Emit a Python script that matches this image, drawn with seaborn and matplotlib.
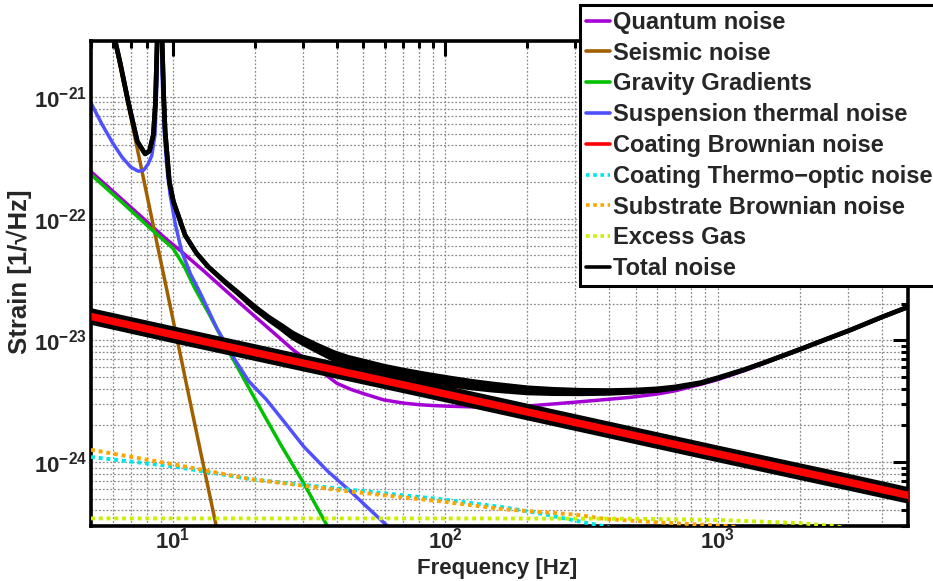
import numpy as np
import pandas as pd
import matplotlib
matplotlib.use("Agg")
import matplotlib.pyplot as plt
import seaborn as sns
from matplotlib.lines import Line2D
from matplotlib.ticker import FixedLocator, FuncFormatter, NullFormatter

# ---------------- data ----------------
labels = ["Quantum noise", "Seismic noise", "Gravity Gradients",
          "Suspension thermal noise", "Coating Brownian noise",
          "Coating Thermo\u2212optic noise", "Substrate Brownian noise",
          "Excess Gas", "Total noise"]

f_quantum = [5, 6, 7.5, 9.36, 10.6, 13, 16, 20, 24, 27.7, 32, 36, 40, 45, 50,
             59.4, 70, 80, 90, 104.5, 125, 150, 175, 206, 250, 314, 400, 478,
             600, 700, 850, 1000, 1250, 1500, 2023, 2500, 3085, 4000, 5000]
quantum = [2.43e-22, 1.69e-22, 1.08e-22, 6.9e-23, 5.5e-23, 3.7e-23, 2.44e-23,
           1.57e-23, 1.1e-23, 8.3e-24, 6.5e-24, 5.3e-24, 4.43e-24, 3.95e-24,
           3.65e-24, 3.24e-24, 3.05e-24, 2.96e-24, 2.91e-24, 2.87e-24,
           2.84e-24, 2.84e-24, 2.86e-24, 2.9e-24, 3.0e-24, 3.13e-24, 3.28e-24,
           3.4e-24, 3.62e-24, 3.85e-24, 4.3e-24, 4.75e-24, 5.62e-24, 6.55e-24,
           8.45e-24, 1.015e-23, 1.215e-23, 1.545e-23, 1.875e-23]

f_seismic = [6.0, 6.9, 7.7, 8.6, 9.5, 10.5, 11.8, 13.0, 14.5, 15.5]
seismic = [3.5e-21, 7.9e-22, 2.43e-22, 7.4e-23, 2.57e-23, 8.8e-24, 2.5e-24,
           8.9e-25, 2.8e-25, 1.4e-25]

f_gravity = [5, 6.5, 8.36, 10, 11, 12, 13.5, 16.4, 20, 25, 30.2, 36.8, 40]
gravity = [2.3e-22, 1.36e-22, 8.1e-23, 5.7e-23, 4.05e-23, 2.7e-23, 1.68e-23,
           7.4e-24, 3.3e-24, 1.36e-24, 6.7e-25, 3.0e-25, 2.1e-25]

f_susp = [5, 5.5, 6, 6.5, 7, 7.46, 7.8, 8.1, 8.36, 8.6, 8.75, 8.85, 8.93, 9.0,
          9.12, 9.3, 9.5, 9.76, 10.2, 10.77, 11.6, 12.6, 14.5, 16.9, 19, 22,
          26, 30.2, 37, 45, 52, 61.1, 70]
susp = [8.9e-22, 5.9e-22, 4.2e-22, 3.2e-22, 2.65e-22, 2.45e-22, 2.5e-22,
        2.8e-22, 3.3e-22, 5e-22, 1.5e-21, 1e-20, 5e-20, 1e-20, 1.5e-21, 5e-22,
        2.6e-22, 1.57e-22, 9e-23, 5.36e-23, 3.5e-23, 2.44e-23, 1.25e-23,
        6.9e-24, 4.6e-24, 3.27e-24, 2.05e-24, 1.34e-24, 8.4e-25, 5.7e-25,
        4.2e-25, 3.0e-25, 2.25e-25]

f_coat = [5, 10, 30, 100, 300, 1000, 3000, 5000]
coat_hi = [1.76e-23, 1.25e-23, 7.3e-24, 4.06e-24, 2.37e-24, 1.31e-24, 7.7e-25, 5.97e-25]
coat_lo = [1.40e-23, 9.9e-24, 5.8e-24, 3.23e-24, 1.88e-24, 1.04e-24, 6.1e-25, 4.75e-25]

f_thermo = [5, 10, 19.5, 45.4, 100, 162, 220, 300, 388, 420]
thermo = [1.1e-24, 9.2e-25, 7.2e-25, 5.9e-25, 4.9e-25, 4.26e-25, 3.8e-25,
          3.3e-25, 2.95e-25, 2.8e-25]

f_substrate = [5, 10, 19.5, 45.4, 100, 162, 300, 388, 600, 1100, 1200]
substrate = [1.26e-24, 9.6e-25, 7.2e-25, 5.7e-25, 4.7e-25, 4.1e-25, 3.7e-25,
             3.4e-25, 3.2e-25, 2.97e-25, 2.9e-25]

f_gas = [5, 100, 500, 1000, 2000, 2700, 3000]
gas = [3.44e-25, 3.44e-25, 3.42e-25, 3.34e-25, 3.15e-25, 2.97e-25, 2.85e-25]

f_total = [6.0, 6.4, 6.85, 7.4, 7.9, 8.2, 8.47, 8.62, 8.75, 8.85, 8.93, 9.0,
           9.12, 9.25, 9.36, 9.7, 10.04, 11.08, 12.2, 13.5, 15.5, 17.4, 20,
           22.5, 25, 27.5, 30, 34, 38.9, 44, 50, 60, 70, 85, 104.5, 125, 150,
           200, 250, 314, 400, 500, 600, 700, 867, 1000, 1250, 1500, 2023,
           2500, 3085, 4000, 5000]
total_hi = [3.6e-21, 1.9e-21, 9.1e-22, 4.3e-22, 3.4e-22, 3.6e-22, 4.9e-22,
            9e-22, 3e-21, 2e-20, 1e-19, 2e-20, 3e-21, 1e-21, 5.2e-22, 2.0e-22,
            1.38e-22, 7.3e-23, 5.2e-23, 4.0e-23, 3.05e-23, 2.46e-23, 1.89e-23,
            1.55e-23, 1.33e-23, 1.15e-23, 1.04e-23, 9.1e-24, 7.97e-24,
            7.26e-24, 6.77e-24, 6.12e-24, 5.71e-24, 5.28e-24, 4.9e-24,
            4.61e-24, 4.38e-24, 4.08e-24, 3.96e-24, 3.89e-24, 3.87e-24,
            3.91e-24, 4.0e-24, 4.15e-24, 4.5e-24, 4.93e-24, 5.75e-24,
            6.64e-24, 8.5e-24, 1.02e-23, 1.22e-23, 1.55e-23, 1.88e-23]
total_lo = [3.6e-21, 1.9e-21, 9.1e-22, 4.3e-22, 3.4e-22, 3.6e-22, 4.9e-22,
            9e-22, 3e-21, 2e-20, 1e-19, 2e-20, 3e-21, 1e-21, 5.2e-22, 2.0e-22,
            1.38e-22, 7.3e-23, 5.2e-23, 4.0e-23, 3.0e-23, 2.4e-23, 1.81e-23,
            1.47e-23, 1.24e-23, 1.05e-23, 9.4e-24, 8.1e-24, 6.95e-24,
            6.26e-24, 5.82e-24, 5.25e-24, 4.9e-24, 4.56e-24, 4.27e-24,
            4.05e-24, 3.88e-24, 3.69e-24, 3.64e-24, 3.63e-24, 3.66e-24,
            3.75e-24, 3.86e-24, 4.04e-24, 4.43e-24, 4.86e-24, 5.71e-24,
            6.6e-24, 8.48e-24, 1.019e-23, 1.219e-23, 1.549e-23, 1.879e-23]

x_ticks = [10, 100, 1000]
y_ticks = [1e-24, 1e-23, 1e-22, 1e-21]

colors = ["#a400d6", "#a06000", "#00c000", "#5050ff", "#ff0000",
          "#00e6e6", "#ffa500", "#c8f000", "#000000"]

# ---------------- style ----------------
sns.set_theme(style="white")
plt.rcParams["font.family"] = ["Liberation Sans", "DejaVu Sans"]
plt.rcParams["font.weight"] = "bold"
plt.rcParams["mathtext.fontset"] = "custom"
plt.rcParams["mathtext.rm"] = "Liberation Sans:bold"
plt.rcParams["mathtext.bf"] = "Liberation Sans:bold"
plt.rcParams["mathtext.it"] = "Liberation Sans:bold"

fig = plt.figure(figsize=(9.33, 5.81), dpi=100)
ax = fig.add_axes([91 / 933, 55 / 581, 817 / 933, 485 / 581])
ax.set_xscale("log")
ax.set_yscale("log")

LW = 2.5
dot = (0, (1, 1))

def line(x, y, color, lw=LW, ls="-", z=2):
    sns.lineplot(x=x, y=y, ax=ax, color=color, lw=lw, linestyle=ls,
                 estimator=None, sort=False, legend=False, zorder=z)

line(f_quantum, quantum, colors[0])
line(f_seismic, seismic, colors[1])
line(f_gravity, gravity, colors[2])
line(f_susp, susp, colors[3])

# coating Brownian band (red with black edges)
ax.fill_between(f_coat, coat_lo, coat_hi, color=colors[4], lw=0, zorder=3)
line(f_coat, coat_hi, "black", lw=3.2, z=3)
line(f_coat, coat_lo, "black", lw=3.2, z=3)

line(f_thermo, thermo, colors[5], lw=2.8, ls=dot, z=4)
line(f_substrate, substrate, colors[6], lw=2.8, ls=dot, z=4)
line(f_gas, gas, colors[7], lw=2.8, ls=dot, z=4)

# total noise band
ax.fill_between(f_total, total_lo, total_hi, color="black", lw=0, zorder=5)
line(f_total, total_hi, "black", lw=3.3, z=5)
line(f_total, total_lo, "black", lw=3.3, z=5)

ax.set_xlim(5, 5000)
ax.set_ylim(2.98e-25, 2.88e-21)

# ticks & grid
ax.xaxis.set_major_locator(FixedLocator(x_ticks))
ax.yaxis.set_major_locator(FixedLocator(y_ticks))
xminor = [k * 10 ** e for e in range(0, 4) for k in range(2, 10) if 5 <= k * 10 ** e <= 5000]
yminor = [k * 10.0 ** e for e in range(-25, -21) for k in range(2, 10) if k * 10.0 ** e >= 2.98e-25]
ax.xaxis.set_minor_locator(FixedLocator(xminor))
ax.yaxis.set_minor_locator(FixedLocator(yminor))
ax.xaxis.set_minor_formatter(NullFormatter())
ax.yaxis.set_minor_formatter(NullFormatter())
fmt = FuncFormatter(lambda v, p: r"$\mathbf{10^{%d}}$" % int(round(np.log10(v))))
ax.xaxis.set_major_formatter(fmt)
ax.yaxis.set_major_formatter(fmt)

ax.grid(True, which="both", color="0.55", linestyle=(0, (1.5, 1.5)), lw=0.9)
ax.set_axisbelow(True)
ax.tick_params(which="both", direction="in", top=True, right=True,
               width=2.2, color="black", labelsize=16)
ax.tick_params(which="major", length=11)
ax.tick_params(which="minor", length=5)
ax.tick_params(axis="y", which="major", pad=3)
ax.tick_params(axis="x", which="major", pad=1)
for s in ax.spines.values():
    s.set_linewidth(2.6)
    s.set_color("black")

ax.set_xlabel("Frequency [Hz]", fontsize=16, fontweight="bold")
ax.set_ylabel("Strain [1/\u221aHz]", fontsize=18.5, fontweight="bold")
ax.xaxis.set_label_coords(0.497, -0.067)
ax.yaxis.set_label_coords(-0.072, 0.525)

handles = []
for i, c in enumerate(colors):
    ls = dot if i in (5, 6, 7) else "-"
    handles.append(Line2D([0], [0], color=c, lw=2.6, linestyle=ls))
leg = fig.legend(handles=handles, labels=labels, loc="upper left",
                 bbox_to_anchor=(580 / 933, 1 - 5 / 581),
                 bbox_transform=fig.transFigure,
                 prop={"weight": "bold", "size": 17},
                 frameon=True, fancybox=False, framealpha=1,
                 edgecolor="black", borderpad=0.25, labelspacing=0.33,
                 handlelength=1.0, handletextpad=0.15, borderaxespad=0)
leg.get_frame().set_linewidth(2.2)

fig.savefig("out.png", dpi=100)
